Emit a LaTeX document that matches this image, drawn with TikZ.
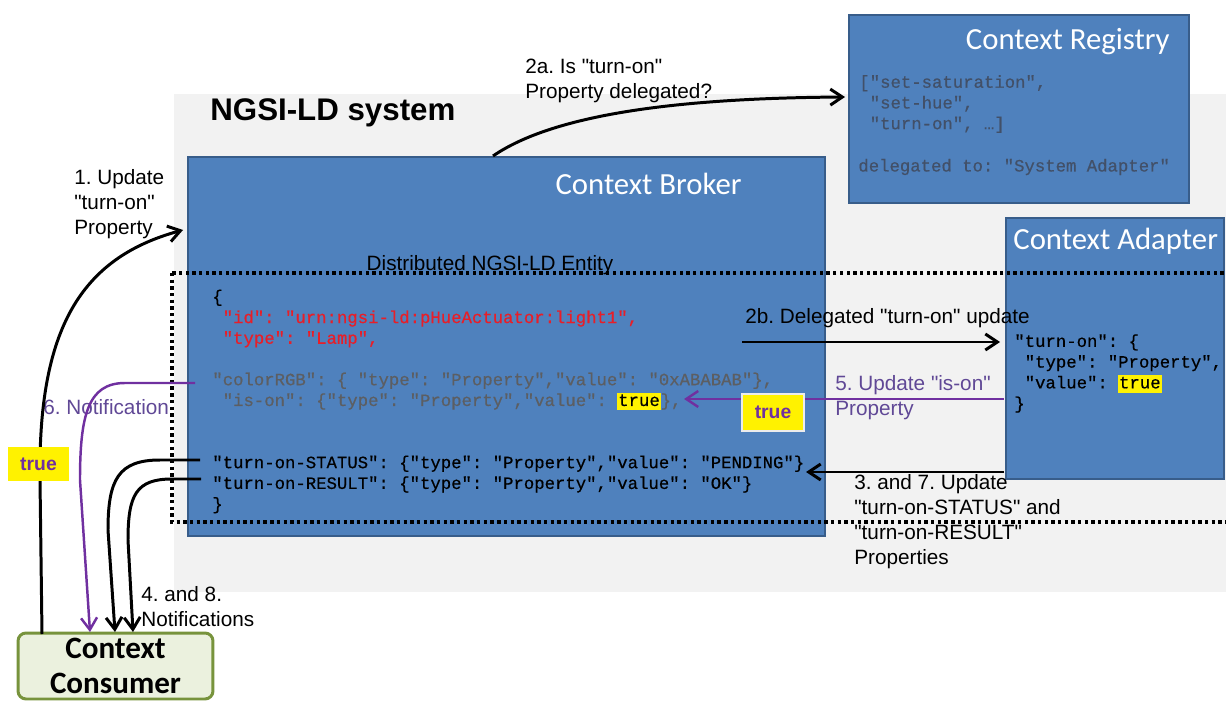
\documentclass[tikz,border=0pt]{standalone}
\usepackage{fontspec}
\setmainfont{Liberation Sans}[Ligatures=TeXOff]
\setmonofont{Liberation Mono}[FakeBold=0.5]
\newfontfamily\carlito{Carlito}
\usetikzlibrary{arrows.meta}
\definecolor{sysgray}{RGB}{242,242,242}
\definecolor{boxblue}{RGB}{79,129,189}
\definecolor{boxedge}{RGB}{56,93,138}
\definecolor{codegray}{RGB}{92,94,98}
\definecolor{codedark}{RGB}{66,80,104}
\definecolor{codered}{RGB}{232,30,40}
\definecolor{notifpurple}{RGB}{112,48,160}
\definecolor{lblpurple}{RGB}{96,72,150}
\definecolor{consfill}{RGB}{235,241,222}
\definecolor{consedge}{RGB}{119,147,60}
\newcommand{\cind}{\hphantom{x}}
\newcommand{\hlt}[1]{{\setlength{\fboxsep}{0.5pt}\colorbox{yellow}{\vphantom{dg}#1}}}
\frenchspacing

\begin{document}
\begin{tikzpicture}[x=0.02cm, y=-0.02cm,
  box/.style={draw=boxedge, fill=boxblue, line width=1.2pt, inner sep=0pt, anchor=north west},
  title/.style={text=white, inner sep=0pt, font=\carlito\fontsize{17.5}{21}\selectfont},
  code/.style={inner sep=0pt, align=left, font=\ttfamily\fontsize{9.85}{11.8}\selectfont},
  lbl/.style={inner sep=0pt, align=left, font=\fontsize{11.8}{14.2}\selectfont},
  flow/.style={line width=1.7pt, -{Straight Barb[length=2.4mm,width=3.2mm]}},
  notif/.style={flow, draw=notifpurple, line width=1.4pt},
  truebox/.style={fill=yellow, text=notifpurple, inner sep=0pt, font=\bfseries\fontsize{11}{13}\selectfont}]
  \useasboundingbox (0,0) rectangle (1226,702);
  \fill[sysgray] (174,94) rectangle (1226,592);
  \node[font=\bfseries\fontsize{17.8}{21}\selectfont, inner sep=0pt, anchor=west] (system) at (210,113) {NGSI-LD system};

  \node[box, minimum width=6.8cm, minimum height=3.76cm] (registry) at (848,14) {};
  \node[box, minimum width=12.74cm, minimum height=7.58cm] (broker) at (187,156) {};
  \node[box, minimum width=4.36cm, minimum height=5.22cm] (adapter) at (1005,217) {};
  \draw[line width=1.9pt, dash pattern=on 1.9pt off 1.9pt] (172,273) rectangle (1240,522);

  \node[title, anchor=east] (regtitle) at (1170,42) {Context Registry};
  \node[title, anchor=east] (brokertitle) at (742,184) {Context Broker};
  \node[title, anchor=west] (adapttitle) at (1013,241) {Context Adapter};
  \node[lbl] (entitylbl) at (490,265) {Distributed NGSI-LD Entity};

  \node[code, text=codedark, anchor=west] (regcode) at (859,104) {["set-saturation",\\ \cind"set-hue",\\ \cind"turn-on", …]};
  \node[code, text=codedark, anchor=west] (regdeleg) at (858,167) {delegated to: "System Adapter"};
  \node[code, anchor=west] (entitycode) at (212,401.5) {\{\\
    \cind\textcolor{codered}{"id": "urn:ngsi-ld:pHueActuator:light1",}\\
    \cind\textcolor{codered}{"type": "Lamp",}\\[11.8pt]
    \textcolor{codegray}{"colorRGB": \{ "type": "Property","value": "0xABABAB"\},}\\
    \cind\textcolor{codegray}{"is-on": \{"type": "Property","value": \hlt{\textcolor{black}{true}}\},}\\[23.6pt]
    "turn-on-STATUS": \{"type": "Property","value": "PENDING"\}\\
    "turn-on-RESULT": \{"type": "Property","value": "OK"\}\\
    \}};
  \node[code, anchor=west] (adaptcode) at (1014,373.5) {"turn-on": \{\\ \cind"type": "Property",\\ \cind"value": \hlt{true}\\ \}};

  \node[lbl, anchor=west] (updlbl) at (74,204) {1. Update\\"turn-on"\\Property};
  \node[lbl, anchor=west] (asklbl) at (525,81) {2a. Is "turn-on"\\Property delegated?};
  \node[lbl, anchor=west] (delegatelbl) at (745,318) {2b. Delegated "turn-on" update};
  \node[lbl, anchor=west, text=lblpurple] (isonlbl) at (835,398) {5. Update "is-on"\\Property};
  \node[lbl, anchor=west, text=lblpurple] (notiflbl) at (43,407) {6. Notification};
  \node[lbl, anchor=west] (statuslbl) at (854,522) {3. and 7. Update\\"turn-on-STATUS" and\\"turn-on-RESULT"\\Properties};
  \node[lbl, anchor=west] (notifslbl) at (141,607) {4. and 8.\\Notifications};

  \node[draw=consedge, fill=consfill, line width=1.7pt, rounded corners=0.16cm, minimum width=3.9cm, minimum height=1.32cm, align=center, inner sep=0pt, font=\carlito\bfseries\fontsize{17.7}{20}\selectfont] (consumer) at (115.5,666) {Context\\Consumer};

  \coordinate (updout) at (42,634);
  \coordinate (updin) at (183,230);
  \coordinate (askout) at (493,156);
  \coordinate (askin) at (845,97);
  \coordinate (delout) at (742,342);
  \coordinate (delin) at (1000,342);
  \coordinate (isonout) at (1004,399);
  \coordinate (isonin) at (684,399);
  \coordinate (notifout) at (195,383);
  \coordinate (notifin) at (90,632);
  \coordinate (statout) at (1004,472);
  \coordinate (statin) at (806,472);
  \coordinate (statusout) at (200,460);
  \coordinate (statusin) at (115,632);
  \coordinate (resultout) at (201,479);
  \coordinate (resultin) at (133,632);

  \draw[flow] (updout) -- (40,480) .. controls (38,330) and (80,258) .. (updin);
  \node[truebox, minimum width=1.22cm, minimum height=0.68cm] (trueup) at (38.5,464) {true};
  \draw[flow] (askout) .. controls (560,110) and (700,98) .. (askin);
  \draw[flow] (delout) -- (delin);
  \draw[notif] (isonout) -- (isonin);
  \node[truebox, draw=white!85!gray, line width=0.6pt, minimum width=1.24cm, minimum height=0.74cm] (trueison) at (773,412.5) {true};
  \draw[notif] (notifout) -- (125,383) .. controls (88,383) and (80,415) .. (80,480) -- (notifin);
  \draw[flow] (statout) -- (statin);
  \draw[flow] (statusout) -- (160,460) .. controls (118,460) and (108,480) .. (108,530) -- (statusin);
  \draw[flow] (resultout) -- (172,479) .. controls (136,479) and (128,495) .. (128,540) -- (resultin);
\end{tikzpicture}
\end{document}
